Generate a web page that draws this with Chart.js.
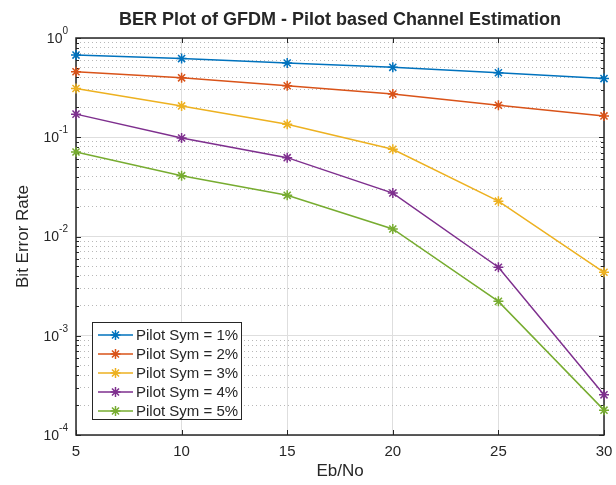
<!DOCTYPE html>
<html lang="en">
<head>
<meta charset="UTF-8">
<title>BER Plot of GFDM - Pilot based Channel Estimation</title>
<script src="https://cdn.jsdelivr.net/npm/chart.js@4"></script>
<style>
    html, body { margin: 0; padding: 0; background: #ffffff; }
</style>
</head>
<body>
<canvas id="berChart" width="616" height="485"></canvas>
<script>
// Eb/No points and BER values
const ebno = [5, 10, 15, 20, 25, 30];
const pilot1 = [0.673, 0.62, 0.56, 0.506, 0.446, 0.39];
const pilot2 = [0.457, 0.397, 0.33, 0.272, 0.21, 0.164];
const pilot3 = [0.31, 0.207, 0.135, 0.0757, 0.0227, 0.00436];
const pilot4 = [0.171, 0.0984, 0.0623, 0.0274, 0.0049, 0.000254];
const pilot5 = [0.0711, 0.041, 0.026, 0.0119, 0.00222, 0.000178];

const seriesLabels = ['Pilot Sym = 1%', 'Pilot Sym = 2%', 'Pilot Sym = 3%', 'Pilot Sym = 4%', 'Pilot Sym = 5%'];
const seriesColors = ['#0072BD', '#D95319', '#EDB120', '#7E2F8E', '#77AC30'];

const xTicks = [5, 10, 15, 20, 25, 30];
const yDecades = [1e-4, 1e-3, 1e-2, 1e-1, 1];
const yDecadeExp = ['-4', '-3', '-2', '-1', '0'];

const FONT = '"Liberation Sans", Arial, Helvetica, sans-serif';
const INK = '#262626';

// grid positions : decades + 2..9 minors
const yGrid = [];
yDecades.forEach((d, i) => {
    yGrid.push(d);
    if (i < yDecades.length - 1) {
        for (let m = 2; m <= 9; m++) yGrid.push(+(m * d).toPrecision(3));
    }
});
const isDecade = v => yDecades.some(d => Math.abs(v / d - 1) < 1e-6);

// star marker (same as MATLAB '*')
function drawAsterisk(ctx, x, y, r, color) {
    ctx.save();
    ctx.strokeStyle = color;
    ctx.lineWidth = 1.5;
    ctx.beginPath();
    ctx.moveTo(x - r, y); ctx.lineTo(x + r, y);
    ctx.moveTo(x, y - r); ctx.lineTo(x, y + r);
    const d = r * 0.7071;
    ctx.moveTo(x - d, y - d); ctx.lineTo(x + d, y + d);
    ctx.moveTo(x - d, y + d); ctx.lineTo(x + d, y - d);
    ctx.stroke();
    ctx.restore();
}

// frame, inner ticks, title, y labels and legend
const matlabAxes = {
    id: 'matlabAxes',
    beforeDatasetsDraw(chart) {
        const { ctx, chartArea: a, scales } = chart;
        ctx.save();
        ctx.strokeStyle = INK;
        ctx.lineWidth = 1;
        ctx.beginPath();
        // y ticks, both sides
        scales.y.ticks.forEach(t => {
            const y = Math.round(scales.y.getPixelForValue(t.value)) + 0.5;
            const len = isDecade(t.value) ? 5 : 3;
            ctx.moveTo(a.left, y); ctx.lineTo(a.left + len, y);
            ctx.moveTo(a.right, y); ctx.lineTo(a.right - len, y);
        });
        // x ticks, top and bottom
        scales.x.ticks.forEach(t => {
            const x = Math.round(scales.x.getPixelForValue(t.value)) + 0.5;
            ctx.moveTo(x, a.bottom); ctx.lineTo(x, a.bottom - 5);
            ctx.moveTo(x, a.top); ctx.lineTo(x, a.top + 5);
        });
        ctx.stroke();
        ctx.lineWidth = 1.5;
        ctx.strokeRect(a.left, a.top, a.right - a.left, a.bottom - a.top);
        ctx.restore();
    },
    afterDraw(chart) {
        const { ctx, chartArea: a, scales } = chart;
        ctx.save();
        ctx.fillStyle = INK;

        // title
        ctx.font = 'bold 18px ' + FONT;
        ctx.textAlign = 'center';
        ctx.textBaseline = 'middle';
        ctx.fillText('BER Plot of GFDM - Pilot based Channel Estimation', (a.left + a.right) / 2, 20);

        // y labels 10^k
        yDecades.forEach((d, i) => {
            const y = scales.y.getPixelForValue(d);
            ctx.font = '10px ' + FONT;
            const ew = ctx.measureText(yDecadeExp[i]).width;
            ctx.textAlign = 'left';
            ctx.textBaseline = 'middle';
            ctx.fillText(yDecadeExp[i], a.left - 8 - ew, y - 7);
            ctx.font = '14px ' + FONT;
            ctx.textAlign = 'right';
            ctx.fillText('10', a.left - 8 - ew, y + 1);
        });

        // legend box
        const bx = 92, by = 322, bw = 149, bh = 97;
        ctx.fillStyle = '#ffffff';
        ctx.fillRect(bx, by, bw, bh);
        ctx.strokeStyle = INK;
        ctx.lineWidth = 1;
        ctx.strokeRect(bx + 0.5, by + 0.5, bw, bh);
        chart.data.datasets.forEach((ds, i) => {
            const y = by + 13 + i * 19;
            ctx.strokeStyle = ds.borderColor;
            ctx.lineWidth = 1.5;
            ctx.beginPath();
            ctx.moveTo(bx + 6, y); ctx.lineTo(bx + 41, y);
            ctx.stroke();
            drawAsterisk(ctx, bx + 23.5, y, 5, ds.borderColor);
            ctx.fillStyle = INK;
            ctx.font = '15px ' + FONT;
            ctx.textAlign = 'left';
            ctx.textBaseline = 'middle';
            ctx.fillText(ds.label, bx + 44, y + 1);
        });
        ctx.restore();
    }
};

const seriesData = [pilot1, pilot2, pilot3, pilot4, pilot5];

new Chart(document.getElementById('berChart'), {
    type: 'line',
    data: {
        datasets: seriesData.map((vals, i) => ({
            label: seriesLabels[i],
            data: ebno.map((x, j) => ({ x: x, y: vals[j] })),
            borderColor: seriesColors[i],
            backgroundColor: seriesColors[i],
            borderWidth: 1.5,
            pointStyle: 'star',
            pointRadius: 5,
            pointBorderWidth: 1.5,
            pointBorderColor: seriesColors[i],
            tension: 0,
            fill: false,
            clip: false
        }))
    },
    options: {
        responsive: false,
        animation: false,
        devicePixelRatio: 1,
        layout: { padding: { top: 38, right: 12, left: 0, bottom: 0 } },
        plugins: {
            legend: { display: false },
            title: { display: false },
            tooltip: { enabled: false }
        },
        scales: {
            x: {
                type: 'linear',
                min: 5,
                max: 30,
                afterBuildTicks: s => { s.ticks = xTicks.map(v => ({ value: v })); },
                afterFit: s => {
                    s.height = 50;
                    s.paddingRight = 0;
                    s.paddingLeft = 0;
                },
                grid: { color: '#dedede', lineWidth: 1, drawTicks: false },
                border: { display: false },
                ticks: {
                    padding: 8,
                    color: INK,
                    maxRotation: 0,
                    font: { family: FONT, size: 15 }
                },
                title: {
                    display: true,
                    text: 'Eb/No',
                    color: INK,
                    font: { family: FONT, size: 17 },
                    padding: { top: 0, bottom: 3 }
                }
            },
            y: {
                type: 'logarithmic',
                min: 1e-4,
                max: 1,
                afterBuildTicks: s => { s.ticks = yGrid.map(v => ({ value: v })); },
                afterFit: s => { s.width = 76; },
                grid: {
                    drawTicks: false,
                    lineWidth: 1,
                    color: c => (c.tick && isDecade(c.tick.value)) ? '#dedede' : '#b8b8b8'
                },
                border: {
                    display: false,
                    dash: c => (c.tick && isDecade(c.tick.value)) ? [] : [1, 3]
                },
                ticks: {
                    autoSkip: false,
                    callback: () => ''
                },
                title: {
                    display: true,
                    text: 'Bit Error Rate',
                    color: INK,
                    font: { family: FONT, size: 17 },
                    padding: { top: 13, bottom: 0 }
                }
            }
        }
    },
    plugins: [matlabAxes]
});
</script>
</body>
</html>
